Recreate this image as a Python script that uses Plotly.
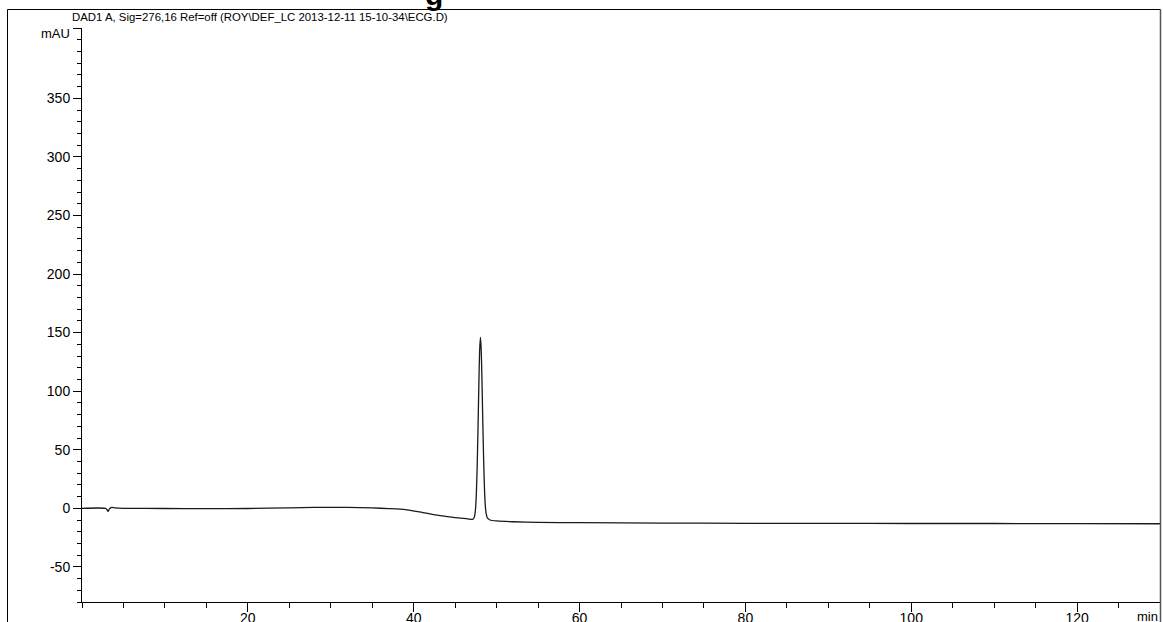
import plotly.graph_objects as go

# Retention time (min) and signal (mAU)
time_min = [0, 2.8, 3.0, 3.15, 3.3, 3.6, 4.0, 5, 10, 15, 20, 25, 28, 32, 35, 37,
            39, 41, 43, 45, 46.5, 47.1, 47.25, 47.35, 47.45, 47.55, 47.65, 47.75,
            47.85, 47.95, 48.05, 48.15, 48.25, 48.35, 48.45, 48.55, 48.65, 48.75,
            48.9, 49.2, 50, 52, 55, 60, 70, 80, 90, 100, 110, 120, 130]
signal_mau = [0, 0, -1, -2.8, -0.5, 0.8, 0.3, 0, -0.2, -0.3, -0.2, 0.4, 0.8, 0.7, 0.3, -0.3,
              -1.2, -3.5, -6, -8, -9, -9.5, -8.5, -6.5, -1, 11.5, 34, 66,
              103, 134, 146, 134, 104, 68, 37, 14, 1, -5,
              -8.5, -10, -10.8, -11.5, -12, -12.3, -12.6, -12.8, -12.9, -13, -13, -13.1, -13.2]

x_ticks = [20, 40, 60, 80, 100, 120]
y_ticks = [-50, 0, 50, 100, 150, 200, 250, 300, 350, 410]
y_tick_text = ["-50", "0", "50", "100", "150", "200", "250", "300", "350", ""]

title_text = "DAD1 A, Sig=276,16 Ref=off (ROY\\DEF_LC 2013-12-11 15-10-34\\ECG.D)"

FONT = "Liberation Sans, Arial, sans-serif"

fig = go.Figure()
fig.add_trace(go.Scatter(
    x=time_min, y=signal_mau, mode="lines",
    line=dict(color="#1a1a1a", width=1.3, shape="spline", smoothing=0.6),
    showlegend=False, hoverinfo="skip",
))

W, H = 1163, 622
L, R, T, B = 82, 3, 28, 20
pw = W - L - R
ph = H - T - B

def px_x(px):
    return (px - L) / pw

def px_y(py):
    return (H - B - py) / ph

fig.update_layout(
    width=W, height=H,
    margin=dict(l=L, r=R, t=T, b=B, autoexpand=False),
    paper_bgcolor="white", plot_bgcolor="white",
    font=dict(family=FONT, size=13, color="black"),
    xaxis=dict(
        range=[0, 130], showgrid=False, zeroline=False, automargin=False,
        showline=True, linecolor="black", linewidth=1,
        tickmode="array", tickvals=x_ticks,
        ticks="outside", ticklen=9, tickcolor="black", tickwidth=1,
        tickfont=dict(family=FONT, size=14, color="black"),
        ticklabelstandoff=-6,
        minor=dict(tickmode="linear", tick0=0, dtick=5, ticks="outside",
                   ticklen=5, tickcolor="black", tickwidth=1, showgrid=False),
    ),
    yaxis=dict(
        range=[-80, 410], showgrid=False, zeroline=False, automargin=False,
        showline=True, linecolor="black", linewidth=1,
        tickmode="array", tickvals=y_ticks, ticktext=y_tick_text,
        ticks="outside", ticklen=8, tickcolor="black", tickwidth=1,
        tickfont=dict(family=FONT, size=14, color="black"),
        ticklabelstandoff=0,
        minor=dict(tickmode="linear", tick0=0, dtick=10, ticks="outside",
                   ticklen=4, tickcolor="black", tickwidth=1, showgrid=False),
    ),
    shapes=[
        dict(type="line", xref="paper", yref="paper",
             x0=px_x(7.5), x1=px_x(7.5), y0=px_y(9.5), y1=-0.2,
             line=dict(color="black", width=1)),
        dict(type="line", xref="paper", yref="paper",
             x0=px_x(7.5), x1=px_x(1160.5), y0=px_y(9.5), y1=px_y(9.5),
             line=dict(color="black", width=1)),
        dict(type="line", xref="paper", yref="paper",
             x0=px_x(1160.5), x1=px_x(1160.5), y0=px_y(9.5), y1=-0.2,
             line=dict(color="#555555", width=1.5)),
    ],
    annotations=[
        dict(text=title_text, xref="paper", yref="paper",
             x=px_x(260), y=px_y(16.5), xanchor="center", yanchor="middle",
             showarrow=False, font=dict(family=FONT, size=11.4, color="black")),
        dict(text="mAU", xref="paper", yref="paper",
             x=px_x(72), y=px_y(33.5), xanchor="right", yanchor="middle",
             showarrow=False, font=dict(family=FONT, size=13, color="black")),
        dict(text="min", xref="paper", yref="paper",
             x=1.0, y=px_y(616), xanchor="right", yanchor="middle",
             showarrow=False, font=dict(family=FONT, size=13, color="black")),
        dict(text="<b>g</b>", xref="paper", yref="paper",
             x=px_x(434), y=px_y(-6), xanchor="center", yanchor="middle",
             showarrow=False, font=dict(family=FONT, size=30, color="black")),
    ],
)

fig.write_html("out.html",
               config={"displayModeBar": False},
               post_script="document.body.style.margin='0';document.body.style.overflow='hidden';")
